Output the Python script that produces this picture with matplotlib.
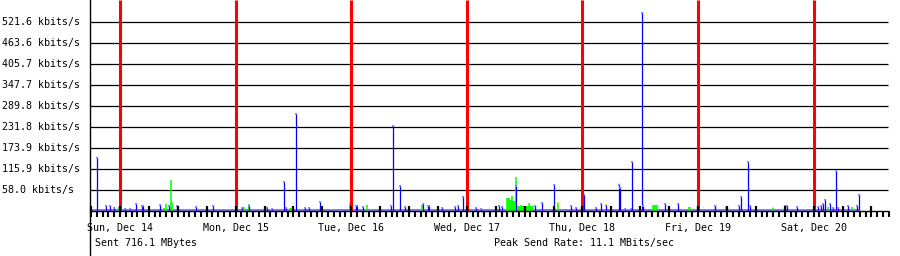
import numpy as np
import matplotlib.pyplot as plt

# y grid / labels (kbits/s)
grid_vals = [58.0, 115.9, 173.9, 231.8, 289.8, 347.7, 405.7, 463.6, 521.6]
grid_labels = ['%.1f kbits/s' % v for v in grid_vals]

# days, hours counted from Sun Dec 14 00:00
day_hours = [0, 24, 48, 72, 96, 120, 144]
day_labels = ['Sun, Dec 14', 'Mon, Dec 15', 'Tue, Dec 16', 'Wed, Dec 17',
              'Thu, Dec 18', 'Fri, Dec 19', 'Sat, Dec 20']

# send rate spikes (blue)
send_hours = [-4.77, -3.01, -2.08, -1.25, 0.98, 2.01, 3.38, 4.47, 4.78, 8.37,
              10.23, 11.9, 15.84, 19.31, 25.33, 26.68, 30.58, 31.62, 34.11, 34.52,
              36.6, 38.47, 39.3, 41.58, 48.9, 49.1, 50.45, 56.32, 56.74, 58.19,
              59.23, 62.97, 63.85, 64.05, 66.91, 69.61, 70.23, 71.27, 73.97, 75.0,
              78.68, 79.3, 82.21, 86.09, 87.67, 90.16, 93.69, 94.73, 96.39, 98.88,
              99.92, 100.95, 103.59, 103.8, 104.9, 106.15, 106.35, 108.43, 108.57, 113.2,
              115.84, 123.42, 123.62, 125.87, 128.44, 128.98, 130.43, 130.85, 137.99, 138.4,
              140.6, 144.96, 145.58, 145.87, 146.41, 147.45, 148.01, 148.69, 149.04, 151.12,
              152.99, 153.47]
send_kbits = [150, 16.6, 16.6, 12, 8, 8, 23, 16.6, 16.6, 19.3,
              16.6, 16.6, 13.8, 16.6, 12, 16, 12, 7.5, 83, 12,
              270, 12, 12, 28.4, 16.6, 16.6, 13.8, 16.6, 237, 72,
              13.8, 23, 16.6, 16.6, 12, 13.8, 16.6, 41.4, 12, 7.5,
              16.6, 13.8, 72, 16.6, 24, 74.5, 16.6, 12, 47, 12,
              23, 19.3, 74, 65, 7.5, 7.5, 138, 550, 16.6, 23,
              23, 16.6, 16.6, 10, 16.6, 41.4, 138, 16.6, 16.6, 16.6,
              13.8, 13.8, 16.6, 21, 33, 23, 10, 113, 10, 16.6,
              16.6, 47]

# second series (green)
green_hours = [-0.27, 9.2, 9.55, 10.59, 10.8, 25.74, 26.68, 35.23, 35.4, 47.68, 51.34, 62.69,
               80.41, 80.61, 80.82, 81.03, 81.24, 81.38, 81.59, 81.8, 82.0, 82.21,
               82.53, 82.73, 82.94, 83.19, 83.4, 83.66, 83.87, 84.07, 84.28, 84.49,
               84.7, 84.91, 85.11, 85.32, 85.53, 85.74,
               91.0, 110.55, 110.76, 110.97, 111.17, 111.38, 118.12, 118.3, 135.56, 146.97, 152.02]
green_kbits = [10, 9, 18.5, 85.6, 25.7, 12, 19.3, 9, 9, 23, 16.6, 16.6,
               35, 35, 35, 30, 30, 41, 28, 28, 28, 95,
               14, 14, 14, 16.6, 14, 14, 14, 14, 14, 14,
               14, 21, 14, 14, 14, 14,
               24, 16.6, 16.6, 16.6, 16.6, 16.6, 10, 10, 10, 10, 12]

# small yellow tops
yellow_hours = [91.0, 100.95, 103.59, 104.3, 121.03, 135.56]
yellow_kbits = [26, 20, 76, 10, 10, 10]

base_kbits = 6.3
start_h, data_end_h, axis_end_h = -6.23, 153.6, 159.4

# layout (pixels of the 900x256 picture)
px_hour = 4.817
px_kbit = 21 / 57.96
x0_px, y0_px = 120, 211

fig = plt.figure(figsize=(9, 2.56), dpi=100)
ax = fig.add_axes([0, 0, 1, 1])
ax.set_xlim(-x0_px / px_hour, (900 - x0_px) / px_hour)
ax.set_ylim((y0_px - 256) / px_kbit, y0_px / px_kbit)
ax.axis('off')

ax.hlines(grid_vals, start_h, axis_end_h, color='black', lw=0.9)

# baseline band
ax.fill_between([start_h, data_end_h], 0, base_kbits, color='#8080ff', lw=0)

ax.vlines(green_hours, 0, green_kbits, color='#00ff00', lw=1.1)
ax.vlines(send_hours, 0, send_kbits, color='#0000ff', lw=0.9)
cap = 2 / px_kbit
sk = np.array(send_kbits)
ax.vlines(send_hours, np.maximum(sk - cap, 0), sk, color='#8080ff', lw=1.2)
yk = np.array(yellow_kbits)
ax.vlines(yellow_hours, yk - cap / 2, yk, color='#ffff00', lw=1.2)
ax.vlines(send_hours, 0, 1.2 / px_kbit, color='#ff00ff', lw=1.0)

# midnight markers
ax.vlines(day_hours, 0, y0_px / px_kbit, color='#ff0000', lw=2.2)

# 6 hour marks and ticks
ax.vlines(np.arange(-6, 157, 6), 0, 5 / px_kbit, color='black', lw=1.6)
ax.vlines(np.arange(-6, 160, 1.2), -6 / px_kbit, 0, color='black', lw=1.5)

ax.hlines(0, start_h, axis_end_h, color='black', lw=1.0)
ax.axvline(start_h, color='black', lw=1.0)

mono = 'DejaVu Sans Mono'
for v, lab in zip(grid_vals, grid_labels):
    ax.text(2 / 900, v, lab, transform=ax.get_yaxis_transform(), ha='left',
            va='center', fontsize=7.2, family=mono)
for h, lab in zip(day_hours, day_labels):
    ax.text(h, (256 - 228.5) / 256, lab, transform=ax.get_xaxis_transform(),
            ha='center', va='center', fontsize=7.2, family=mono)
ax.text(95 / 900, (256 - 242.7) / 256, 'Sent 716.1 MBytes', transform=ax.transAxes,
        ha='left', va='center', fontsize=7.2, family=mono)
ax.text(494 / 900, (256 - 242.7) / 256, 'Peak Send Rate: 11.1 MBits/sec',
        transform=ax.transAxes, ha='left', va='center', fontsize=7.2, family=mono)

fig.savefig('out.png', dpi=100)
